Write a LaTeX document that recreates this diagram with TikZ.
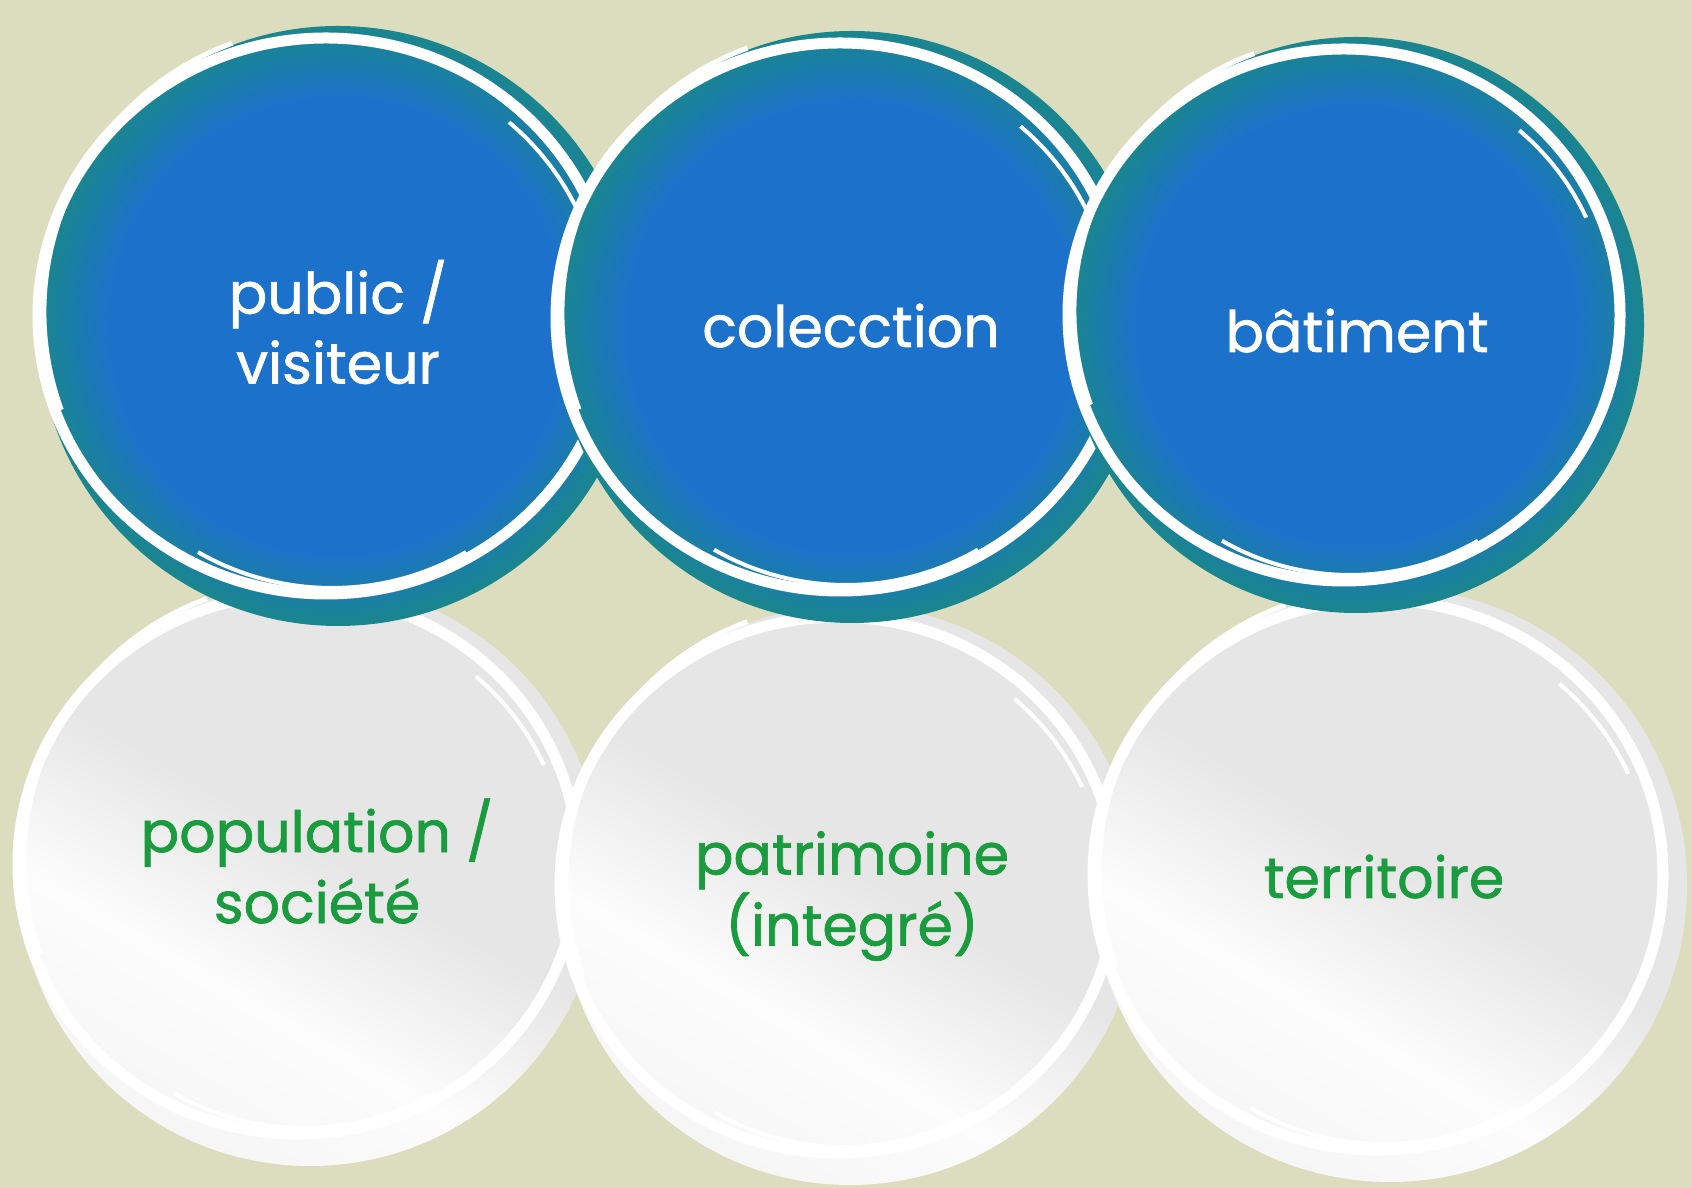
\documentclass[tikz,border=0pt]{standalone}
\usepackage{fontspec}
\setmainfont{Poppins}[FakeBold=1.2]
\usetikzlibrary{calc}
\definecolor{bg}{RGB}{220,221,191}
\definecolor{cblue}{RGB}{28,114,203}
\definecolor{cteal}{RGB}{26,134,140}
\definecolor{gA}{RGB}{230,230,230}
\definecolor{gB}{RGB}{246,246,246}
\definecolor{gC}{RGB}{252,252,252}
\definecolor{cgreen}{RGB}{26,155,62}
\pgfdeclareradialshading{blueball}{\pgfpoint{0bp}{0bp}}{color(0bp)=(cblue); color(19bp)=(cblue); color(25bp)=(cteal); color(50bp)=(cteal)}
\pgfdeclareverticalshading{grayball}{100bp}{color(0bp)=(gB); color(25bp)=(gB); color(38bp)=(gC); color(52bp)=(gA); color(75bp)=(gA); color(100bp)=(gA)}
\newcommand\brushring[2]{%
  \draw[brush] ($(#1.center)+(-12,10)$) ellipse [x radius=#2-12, y radius=#2-22];
  \draw[brush, line width=5pt] ($(#1.center)+(-8,14)$) ++(110:{#2-14}) arc[start angle=110, end angle=200, radius=#2-14];
  \draw[brush, line width=4pt] ($(#1.center)+(0,0)$) ++(25:{#2-34}) arc[start angle=25, end angle=50, radius=#2-34];
  \draw[brush, line width=4pt] ($(#1.center)+(-6,6)$) ++(240:{#2-32}) arc[start angle=240, end angle=300, radius=#2-32];
}
\tikzset{
  bluec/.style={circle, inner sep=0pt, shading=blueball},
  grayc/.style={circle, inner sep=0pt, shading=grayball, shading angle=-30},
  brush/.style={draw=white, line width=11pt},
  wlabel/.style={text=white, font=\fontsize{57}{70}\selectfont, align=center, inner sep=0pt},
  glabel/.style={text=cgreen, font=\fontsize{57}{71}\selectfont, align=center, inner sep=0pt},
}
\begin{document}
\begin{tikzpicture}[x=1pt, y=1pt]
\useasboundingbox (0,0) rectangle (1692,1188);
\fill[bg] (0,0) rectangle (1692,1188);
% bottom row
\node[grayc, minimum size=584pt] (D) at (310,314) {};
\brushring{D}{292}
\node[grayc, minimum size=580pt] (E) at (850,293) {};
\brushring{E}{290}
\node[grayc, minimum size=594pt] (F) at (1390,303) {};
\brushring{F}{297}
% top row
\node[bluec, minimum size=600pt] (A) at (338,862) {};
\brushring{A}{300}
\node[bluec, minimum size=592pt] (B) at (852,861) {};
\brushring{B}{296}
\node[bluec, minimum size=576pt] (C) at (1356,863) {};
\brushring{C}{288}
% labels
\node[wlabel] (At) at (338,866) {public /\\visiteur};
\node[wlabel, anchor=base] (Bt) at (851,841) {colecction};
\node[wlabel, anchor=base] (Ct) at (1357,836) {bâtiment};
\node[glabel] (Dt) at (317,327) {population /\\société};
\node[glabel] (Et) at (852,292) {patrimoine\\(integré)};
\node[glabel, anchor=base] (Ft) at (1384,290) {territoire};
\end{tikzpicture}
\end{document}
